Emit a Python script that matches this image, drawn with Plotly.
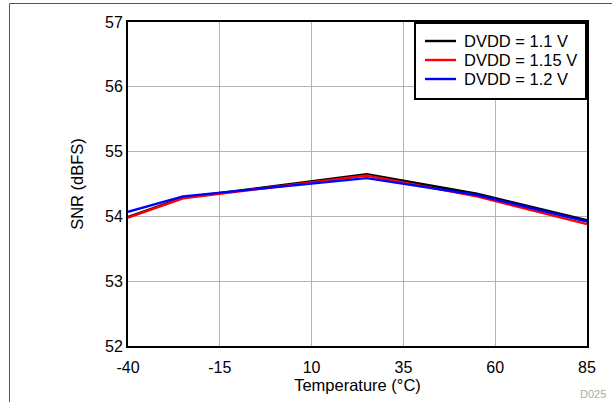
import plotly.graph_objects as go

temps = [-40, -25, 25, 55, 85]
snr_11 = [53.99, 54.29, 54.65, 54.35, 53.94]
snr_115 = [53.98, 54.28, 54.63, 54.31, 53.88]
snr_12 = [54.07, 54.31, 54.59, 54.33, 53.92]
names = ["DVDD = 1.1 V", "DVDD = 1.15 V", "DVDD = 1.2 V"]
colors = ["#000000", "#ff0000", "#0000ff"]
x_ticks = [-40, -15, 10, 35, 60, 85]
x_tick_text = ["-40", "-15", "10", "35", "60", "85"]
y_ticks = [52, 53, 54, 55, 56, 57]

W, H = 612, 402
L, R, T, B = 128, 587, 22, 346

fig = go.Figure()
for ys, n, c in zip([snr_11, snr_115, snr_12], names, colors):
    fig.add_trace(go.Scatter(x=temps, y=ys, mode="lines", name=n,
                             line=dict(color=c, width=2.4), showlegend=False))

def px(xp):
    return (xp - L) / (R - L)

def py(yp):
    return (B - yp) / (B - T)

# outer frame
fig.add_shape(type="line", xref="paper", yref="paper",
              x0=px(9.5), x1=px(612), y0=py(3.5), y1=py(3.5),
              line=dict(color="#555555", width=1))
fig.add_shape(type="line", xref="paper", yref="paper",
              x0=px(9.5), x1=px(9.5), y0=py(3.5), y1=py(402),
              line=dict(color="#555555", width=1))
fig.add_annotation(text="D025", xref="paper", yref="paper",
                   x=px(608), y=py(394), xanchor="right", yanchor="middle",
                   showarrow=False, font=dict(size=11, color="#aaaaaa"))

# legend (drawn manually to match the compact spacing)
fig.add_shape(type="rect", xref="paper", yref="paper",
              x0=px(415), x1=px(586), y0=py(23), y1=py(99),
              line=dict(color="black", width=2), fillcolor="white", layer="above")
for i, (n, c) in enumerate(zip(names, colors)):
    yy = 41 + i * 19
    fig.add_shape(type="line", xref="paper", yref="paper",
                  x0=px(425), x1=px(456), y0=py(yy), y1=py(yy),
                  line=dict(color=c, width=2.4), layer="above")
    fig.add_annotation(text=n, xref="paper", yref="paper",
                       x=px(462), y=py(yy), xanchor="left", yanchor="middle",
                       showarrow=False, font=dict(size=16.5, color="black"))

fig.update_layout(
    width=W, height=H,
    margin=dict(l=L, r=W - R, t=T, b=H - B),
    paper_bgcolor="white", plot_bgcolor="white",
    font=dict(family="Liberation Sans, Arial", size=16, color="black"),
    showlegend=False,
    xaxis=dict(range=[-40, 85], tickvals=x_ticks, ticktext=x_tick_text, ticks="",
               showgrid=True, gridcolor="#b4b4b4", gridwidth=1,
               showline=True, linecolor="black", linewidth=2, mirror=True,
               zeroline=False, tickfont=dict(size=16), ticklabelstandoff=6,
               title=dict(text="Temperature (°C)", standoff=1, font=dict(size=16.5))),
    yaxis=dict(range=[52, 57], tickvals=y_ticks, ticks="",
               showgrid=True, gridcolor="#b4b4b4", gridwidth=1,
               showline=True, linecolor="black", linewidth=2, mirror=True,
               zeroline=False, tickfont=dict(size=16),
               title=dict(text="SNR (dBFS)", standoff=17, font=dict(size=16.5))),
)

fig.write_html("out.html", config={"displayModeBar": False},
               post_script="document.body.style.margin='0';document.body.style.overflow='hidden';")
